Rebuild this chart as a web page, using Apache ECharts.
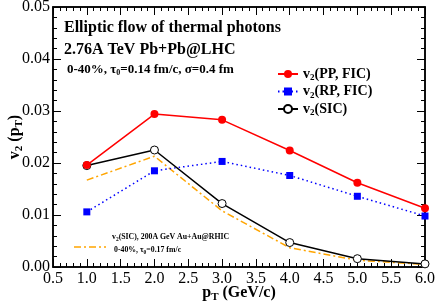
<!DOCTYPE html>
<html><head><meta charset="utf-8">
<script src="https://cdn.jsdelivr.net/npm/echarts@6/dist/echarts.min.js"></script>
<style>html,body{margin:0;padding:0;background:#fff}#c{width:436px;height:304px}</style>
</head><body><div id="c"></div>
<script>
const pT = [1.0, 2.0, 3.0, 4.0, 5.0, 6.0];
const v2PP = [0.0196, 0.0294, 0.0283, 0.0224, 0.0162, 0.0113];
const v2RP = [0.0106, 0.0185, 0.0203, 0.0176, 0.0136, 0.0098];
const v2SIC = [0.0195, 0.0225, 0.0122, 0.0047, 0.0016, 0.0006];
const v2RHIC = [0.0167, 0.0213, 0.0108, 0.0037, 0.0013, 0.0005];
const xTicks = [0.5, 1.0, 1.5, 2.0, 2.5, 3.0, 3.5, 4.0, 4.5, 5.0, 5.5, 6.0];
const yTicks = [0.00, 0.01, 0.02, 0.03, 0.04, 0.05];

const serif = '"Liberation Serif","DejaVu Serif",serif';
const pair = (xs, ys) => xs.map((x, i) => [x, ys[i]]);
const chart = echarts.init(document.getElementById('c'));
const tickStyle = {color: '#000', width: 1};
const baseX = {
  type: 'value', min: 0.5, max: 6.0, interval: 0.5,
  axisLine: {show: true, onZero: false, lineStyle: {color: '#000', width: 1.5}},
  axisTick: {show: true, inside: true, length: 8, lineStyle: tickStyle},
  minorTick: {show: true, splitNumber: 5, length: 4, lineStyle: tickStyle},
  splitLine: {show: false}
};
const baseY = {
  type: 'value', min: 0, max: 0.05, interval: 0.01,
  axisLine: {show: true, onZero: false, lineStyle: {color: '#000', width: 1.5}},
  axisTick: {show: true, inside: true, length: 8, lineStyle: tickStyle},
  minorTick: {show: true, splitNumber: 5, length: 4, lineStyle: tickStyle},
  splitLine: {show: false}
};
const rich = {
  b: {fontFamily: serif, fontWeight: 'bold', fontSize: 14, color: '#000'},
  s: {fontFamily: serif, fontWeight: 'bold', fontSize: 9, color: '#000', padding: [8, 0, 0, 0]}
};
const nameRich = {
  b: {fontFamily: serif, fontWeight: 'bold', fontSize: 16, color: '#000'},
  s: {fontFamily: serif, fontWeight: 'bold', fontSize: 11, color: '#000', padding: [9, 0, 0, 0]}
};
chart.setOption({
  animation: false,
  grid: {left: 53, right: 11, top: 7, bottom: 37, show: true, borderColor: '#000', borderWidth: 1.5,
    containLabel: false, outerBoundsMode: 'none'},
  xAxis: [
    Object.assign({}, baseX, {
      position: 'bottom',
      axisLabel: {fontFamily: serif, fontSize: 16, color: '#000', margin: 4,
        formatter: v => xTicks.some(t => Math.abs(t - v) < 1e-6) ? v.toFixed(1) : ''},
      name: '{b|p}{s|T}{b| (GeV/c)}', nameLocation: 'middle', nameGap: 16, nameMoveOverlap: false,
      nameTextStyle: {rich: nameRich}
    }),
    Object.assign({}, baseX, {position: 'top', axisLabel: {show: false}})
  ],
  yAxis: [
    Object.assign({}, baseY, {
      position: 'left',
      axisLabel: {fontFamily: serif, fontSize: 16, color: '#000', margin: 3,
        formatter: v => yTicks.some(t => Math.abs(t - v) < 1e-9) ? v.toFixed(2) : ''},
      name: '{b|v}{s|2}{b| (p}{s|T}{b|)}', nameLocation: 'middle', nameGap: 28, nameRotate: 90, nameMoveOverlap: false,
      nameTextStyle: {rich: nameRich}
    }),
    Object.assign({}, baseY, {position: 'right', axisLabel: {show: false}})
  ],
  legend: {
    orient: 'vertical', left: 272, top: 62, itemGap: 2, itemWidth: 20, itemHeight: 10,
    data: ['PP', 'RP', 'SIC'],
    formatter: n => ({PP: '{b|v}{s|2}{b|(PP, FIC)}', RP: '{b|v}{s|2}{b|(RP, FIC)}', SIC: '{b|v}{s|2}{b|(SIC)}'})[n],
    textStyle: {rich: rich}
  },
  series: [
    {name: 'RHIC', type: 'line', data: pair(pT, v2RHIC), symbol: 'none',
      lineStyle: {color: '#ffa500', width: 1.5, type: [7, 3, 2, 3]}, z: 1},
    {name: 'RP', type: 'line', data: pair(pT, v2RP), symbol: 'rect', symbolSize: 7,
      itemStyle: {color: '#0000ff'}, lineStyle: {color: '#0000ff', width: 1.5, type: [1.5, 3]}, z: 2},
    {name: 'SIC', type: 'line', data: pair(pT, v2SIC), symbol: 'circle', symbolSize: 8,
      itemStyle: {color: '#fff', borderColor: '#000', borderWidth: 1}, lineStyle: {color: '#000', width: 1.5}, z: 3},
    {name: 'PP', type: 'line', data: pair(pT, v2PP), symbol: 'circle', symbolSize: 8,
      itemStyle: {color: '#ff0000'}, lineStyle: {color: '#ff0000', width: 1.5}, z: 4}
  ],
  graphic: [
    {type: 'text', left: 64, top: 20, style: {text: 'Elliptic flow of thermal photons', font: 'bold 16px ' + serif, fill: '#000'}},
    {type: 'text', left: 64, top: 42, style: {text: '2.76A TeV Pb+Pb@LHC', font: 'bold 16px ' + serif, fill: '#000'}},
    {type: 'text', left: 67, top: 63, style: {
      text: '{b|0-40%, τ}{s|0}{b|=0.14 fm/c, σ=0.4 fm}',
      rich: {b: {fontFamily: serif, fontWeight: 'bold', fontSize: 13, fill: '#000'},
             s: {fontFamily: serif, fontWeight: 'bold', fontSize: 8, fill: '#000', padding: [7, 0, 0, 0]}}}},
    {type: 'line', shape: {x1: 74, y1: 247, x2: 106, y2: 247}, style: {stroke: '#ffa500', lineWidth: 1.5, lineDash: [7, 3, 2, 3]}},
    {type: 'text', left: 112, top: 233, style: {
      text: '{b|v}{s|2}{b|(SIC), 200A GeV Au+Au@RHIC}',
      rich: {b: {fontFamily: serif, fontWeight: 'bold', fontSize: 7.8, fill: '#000'},
             s: {fontFamily: serif, fontWeight: 'bold', fontSize: 5.5, fill: '#000', padding: [5, 0, 0, 0]}}}},
    {type: 'text', left: 114, top: 246, style: {
      text: '{b|0-40%, τ}{s|0}{b|=0.17 fm/c}',
      rich: {b: {fontFamily: serif, fontWeight: 'bold', fontSize: 7.8, fill: '#000'},
             s: {fontFamily: serif, fontWeight: 'bold', fontSize: 5.5, fill: '#000', padding: [5, 0, 0, 0]}}}}
  ]
});
</script></body></html>
